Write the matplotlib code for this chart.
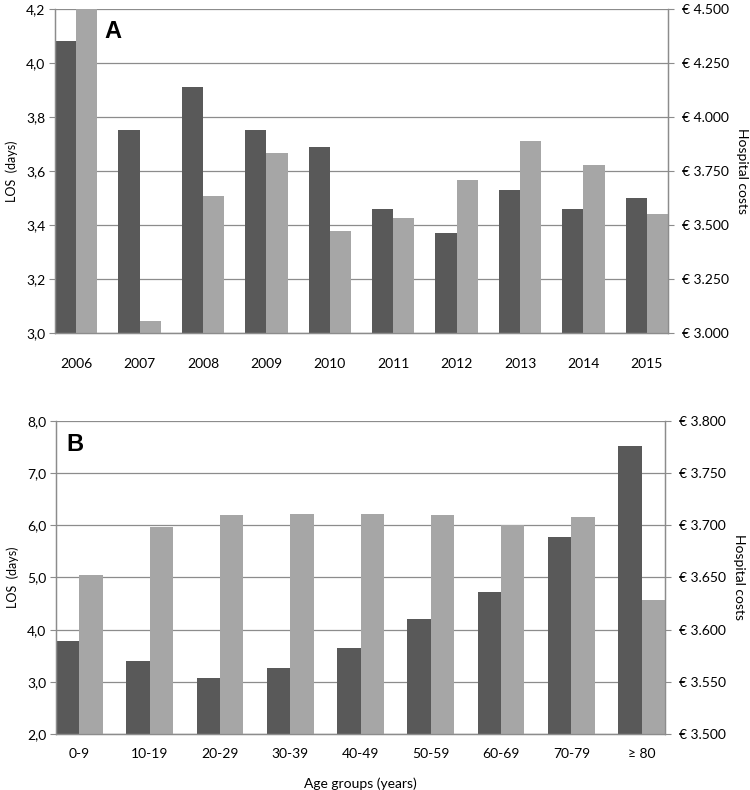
import matplotlib.pyplot as plt
import numpy as np
from matplotlib.ticker import FuncFormatter

# panel A: per year
years = ['2006', '2007', '2008', '2009', '2010', '2011', '2012', '2013', '2014', '2015']
los_year = [4.08, 3.75, 3.91, 3.75, 3.69, 3.46, 3.37, 3.53, 3.46, 3.50]
cost_year = [4500, 3054, 3633, 3835, 3470, 3532, 3707, 3887, 3776, 3552]

# panel B: per age group
ages = ['0-9', '10-19', '20-29', '30-39', '40-49', '50-59', '60-69', '70-79', '\u2265 80']
los_age = [3.79, 3.39, 3.07, 3.27, 3.65, 4.20, 4.73, 5.78, 7.53]
cost_age = [3652, 3698, 3710, 3711, 3711, 3710, 3700, 3708, 3628]

DARK = '#595959'
LIGHT = '#a6a6a6'
GRID = '#8c8c8c'

plt.rcParams['font.family'] = ['Lato', 'DejaVu Sans']
plt.rcParams['font.size'] = 9.5

fig = plt.figure(figsize=(7.5, 7.9), dpi=100)


def euro(v, pos):
    return '\u20ac ' + '{:,.0f}'.format(v).replace(',', '.')


def comma(v, pos):
    return '{:.1f}'.format(v).replace('.', ',')


def panel(rect, cats, los, cost, los_lim, los_step, cost_lim, cost_step, letter, letter_xy, xpad):
    ax = fig.add_axes(rect)
    ax2 = ax.twinx()
    x = np.arange(len(cats))
    w = 1 / 3
    ax.bar(x - w / 2, [v - los_lim[0] for v in los], w, bottom=los_lim[0], color=DARK, zorder=2)
    ax2.bar(x + w / 2, [v - cost_lim[0] for v in cost], w, bottom=cost_lim[0], color=LIGHT, zorder=2)
    ax.set_xlim(-w, len(cats) - 1 + w)
    ax.set_ylim(*los_lim)
    ax2.set_ylim(*cost_lim)
    ax.set_yticks(np.arange(los_lim[0], los_lim[1] + 1e-9, los_step))
    ax2.set_yticks(np.arange(cost_lim[0], cost_lim[1] + 1e-9, cost_step))
    ax.yaxis.set_major_formatter(FuncFormatter(comma))
    ax2.yaxis.set_major_formatter(FuncFormatter(euro))
    ax.set_xticks(x)
    ax.set_xticklabels(cats)
    ax.tick_params(axis='x', length=0, pad=xpad, labelsize=10)
    ax.tick_params(axis='y', length=4, color=GRID, pad=3, labelsize=10)
    ax2.tick_params(axis='y', length=4, color=GRID, pad=6, labelsize=10)
    ax.yaxis.grid(True, color=GRID, linewidth=0.9, zorder=0)
    ax.set_axisbelow(True)
    for a in (ax, ax2):
        a.spines['top'].set_visible(False)
        for s in ('left', 'right', 'bottom'):
            a.spines[s].set_color(GRID)
            a.spines[s].set_linewidth(0.9)
    ax.set_ylabel('LOS  (days)', fontsize=9, labelpad=6)
    ax2.set_ylabel('Hospital costs', rotation=270, fontsize=10, labelpad=14)
    ax.text(letter_xy[0], letter_xy[1], letter, transform=ax.transAxes, fontsize=17,
            fontweight='bold', family='Liberation Sans', va='center', ha='center')
    return ax, ax2


panel([0.0733, 0.5785, 0.8174, 0.4101], years, los_year, cost_year,
      (3.0, 4.2), 0.2, (3000, 4500), 250, 'A', (0.095, 0.932), 18)
axb, axb2 = panel([0.0747, 0.0709, 0.8120, 0.3962], ages, los_age, cost_age,
                  (2.0, 8.0), 1.0, (3500, 3800), 50, 'B', (0.031, 0.926), 10)
axb.set_xlabel('Age groups (years)', fontsize=10, labelpad=13)

fig.savefig('out.png', dpi=100)
